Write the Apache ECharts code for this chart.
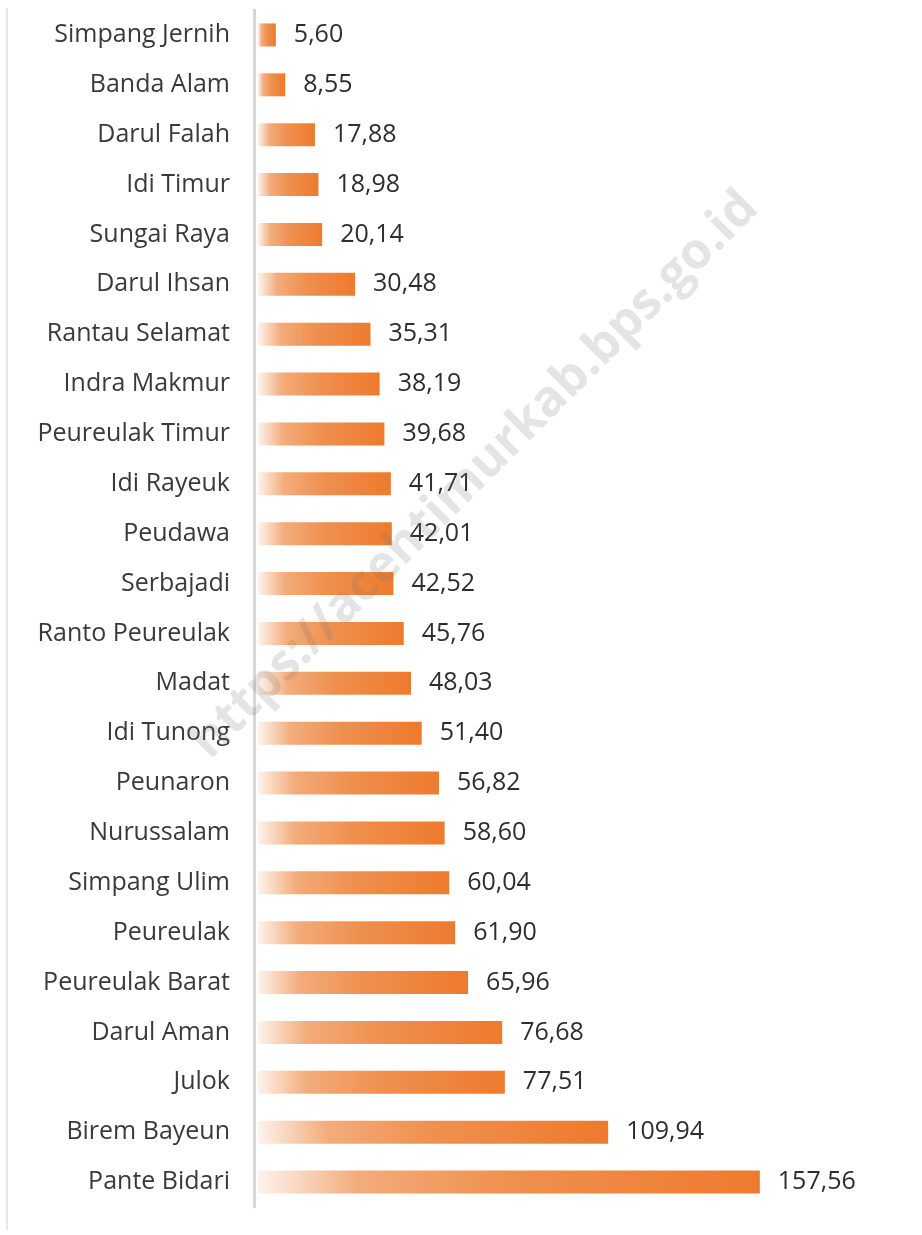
<!DOCTYPE html>
<html>
<head>
<meta charset="utf-8">
<script src="https://cdn.jsdelivr.net/npm/echarts@6/dist/echarts.min.js"></script>
<style>html,body{margin:0;padding:0;background:#fff}#c{width:922px;height:1235px}</style>
</head>
<body>
<div id="c"></div>
<script>
const categories = ["Simpang Jernih","Banda Alam","Darul Falah","Idi Timur","Sungai Raya","Darul Ihsan","Rantau Selamat","Indra Makmur","Peureulak Timur","Idi Rayeuk","Peudawa","Serbajadi","Ranto Peureulak","Madat","Idi Tunong","Peunaron","Nurussalam","Simpang Ulim","Peureulak","Peureulak Barat","Darul Aman","Julok","Birem Bayeun","Pante Bidari"];
const values = [5.60,8.55,17.88,18.98,20.14,30.48,35.31,38.19,39.68,41.71,42.01,42.52,45.76,48.03,51.40,56.82,58.60,60.04,61.90,65.96,76.68,77.51,109.94,157.56];

const chart = echarts.init(document.getElementById('c'), null, {renderer:'canvas'});
const font = "'Open Sans', 'Noto Sans', sans-serif";
chart.setOption({
  animation:false,
  backgroundColor:'#ffffff',
  grid:{left:258, top:10, height:1197, width:637},
  xAxis:{type:'value', min:0, max:200, show:false},
  yAxis:{
    type:'category', data:categories, inverse:true, offset:4,
    axisLine:{show:true, onZero:false, lineStyle:{color:'#d6d6d6', width:3}},
    axisTick:{show:false},
    axisLabel:{color:'#3a3a3a', fontSize:25, fontFamily:font, margin:24}
  },
  series:[{
    type:'bar', data:values, barWidth:23,
    itemStyle:{color:new echarts.graphic.LinearGradient(0,0,1,0,[
      {offset:0,color:'#fdf3ec'},
      {offset:0.2,color:'#f3ac7b'},
      {offset:0.5,color:'#ef904f'},
      {offset:1,color:'#ee7a2d'}
    ])},
    label:{show:true, position:'right', distance:18, color:'#2e2e2e', fontSize:25, fontFamily:font,
      formatter:p=>p.value.toFixed(2).replace('.',',')}
  }],
  graphic:[
    {type:'line', shape:{x1:7,y1:8,x2:7,y2:1230}, style:{stroke:'#e6e6e6', lineWidth:2}, silent:true},
    {type:'text', x:475, y:475, rotation:Math.PI/4, style:{text:'https://acehtimurkab.bps.go.id', fill:'rgba(120,120,120,0.2)', font:'bold 50px "Open Sans", sans-serif', align:'center', verticalAlign:'middle'}, silent:true, z:10}
  ]
});
</script>
</body>
</html>
